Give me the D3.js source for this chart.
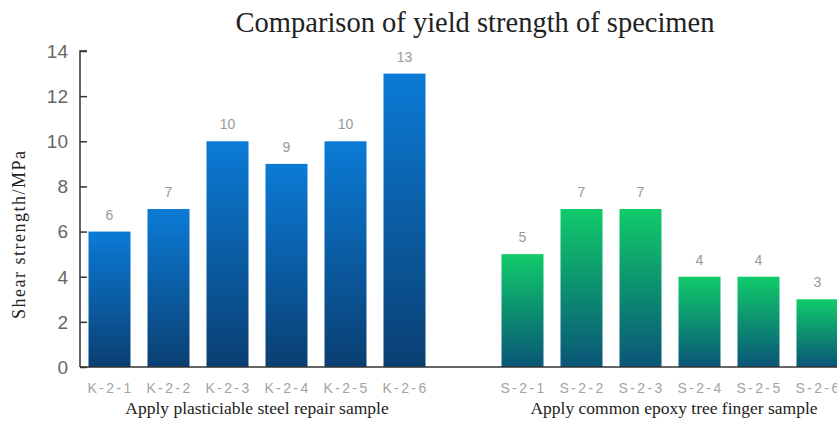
<!DOCTYPE html>
<html>
<head>
<meta charset="utf-8">
<script src="https://d3js.org/d3.v7.min.js"></script>
<style>
  body { margin: 0; background: #fff; }
  .tick-x { font-family: Arial, "Liberation Sans", sans-serif; font-size: 14px; fill: #a3a3a3; letter-spacing: 2.4px; }
  .tick-y { font-family: Arial, "Liberation Sans", sans-serif; font-size: 19px; fill: #666; }
  .val { font-family: Arial, "Liberation Sans", sans-serif; font-size: 14px; fill: #999; }
  .serif { font-family: "Liberation Serif", "DejaVu Serif", serif; fill: #222; }
</style>
</head>
<body>
<script>
// data
var kLabels = ["K-2-1", "K-2-2", "K-2-3", "K-2-4", "K-2-5", "K-2-6"]
var kValues = [6, 7, 10, 9, 10, 13]
var sLabels = ["S-2-1", "S-2-2", "S-2-3", "S-2-4", "S-2-5", "S-2-6"]
var sValues = [5, 7, 7, 4, 4, 3]
var groupNames = ["Apply plasticiable steel repair sample", "Apply common epoxy tree finger sample"]
var yTicks = [0, 2, 4, 6, 8, 10, 12, 14]

var width = 837, height = 422
var x0 = 80, x1 = 847, yTop = 51, yBottom = 367

var svg = d3.select("body").append("svg")
  .attr("width", width)
  .attr("height", height)

var defs = svg.append("defs")
function grad(id, top, bottom) {
  var g = defs.append("linearGradient").attr("id", id)
    .attr("x1", 0).attr("y1", 0).attr("x2", 0).attr("y2", 1)
  g.append("stop").attr("offset", "0%").attr("stop-color", top)
  g.append("stop").attr("offset", "100%").attr("stop-color", bottom)
}
grad("gBlue", "#0b7bd6", "#0a3f72")
grad("gGreen", "#10cb6a", "#0a5577")

// one empty slot between the two groups
var bars = kLabels.map(function(l, i) { return {label: l, value: kValues[i], fill: "url(#gBlue)"} })
  .concat([{label: "", value: null}])
  .concat(sLabels.map(function(l, i) { return {label: l, value: sValues[i], fill: "url(#gGreen)"} }))

var x = d3.scaleBand()
  .domain(bars.map(function(d, i) { return i }))
  .range([x0, x1])
  .paddingInner(0.288)
  .paddingOuter(0.144)

var y = d3.scaleLinear().domain([0, 14]).range([yBottom, yTop])

var real = bars.filter(function(d) { return d.value !== null })
var idx = function(d) { return bars.indexOf(d) }

svg.selectAll("rect.bar")
  .data(real)
  .enter().append("rect")
  .attr("class", "bar")
  .attr("x", function(d) { return x(idx(d)) })
  .attr("y", function(d) { return y(d.value) })
  .attr("width", x.bandwidth())
  .attr("height", function(d) { return y(0) - y(d.value) })
  .attr("fill", function(d) { return d.fill })

svg.selectAll("text.val")
  .data(real)
  .enter().append("text")
  .attr("class", "val")
  .attr("x", function(d) { return x(idx(d)) + x.bandwidth() / 2 })
  .attr("y", function(d) { return y(d.value) - 12 })
  .attr("text-anchor", "middle")
  .text(function(d) { return d.value })

// y axis
var yAxis = d3.axisRight(y).tickValues(yTicks).tickSize(7).tickFormat("")
var ya = svg.append("g").attr("transform", "translate(" + x0 + ",0)").call(yAxis)
ya.select(".domain").attr("stroke", "#333").attr("stroke-width", 1.5)
  .attr("d", "M7," + yTop + "H0V" + yBottom)
ya.selectAll(".tick line").attr("stroke", "#333").attr("stroke-width", 1.5)

svg.selectAll("text.tick-y")
  .data(yTicks)
  .enter().append("text")
  .attr("class", "tick-y")
  .attr("x", 68)
  .attr("y", function(d) { return y(d) })
  .attr("dy", "0.36em")
  .attr("text-anchor", "end")
  .text(function(d) { return d })

// baseline
svg.append("line")
  .attr("x1", x0).attr("x2", width)
  .attr("y1", yBottom).attr("y2", yBottom)
  .attr("stroke", "#333").attr("stroke-width", 1.5)

svg.selectAll("text.tick-x")
  .data(real)
  .enter().append("text")
  .attr("class", "tick-x")
  .attr("x", function(d) { return x(idx(d)) + x.bandwidth() / 2 + 1 })
  .attr("y", 393)
  .attr("text-anchor", "middle")
  .text(function(d) { return d.label })

// group labels
var gCenters = [
  (x(0) + x(5) + x.bandwidth()) / 2,
  (x(7) + x(12) + x.bandwidth()) / 2 + 4
]
svg.selectAll("text.group")
  .data(groupNames)
  .enter().append("text")
  .attr("class", "serif")
  .attr("x", function(d, i) { return gCenters[i] })
  .attr("y", 414)
  .attr("text-anchor", "middle")
  .style("font-size", "17.5px")
  .text(function(d) { return d })

// title
svg.append("text")
  .attr("class", "serif")
  .attr("x", 475)
  .attr("y", 32)
  .attr("text-anchor", "middle")
  .style("font-size", "28.5px")
  .text("Comparison of yield strength of specimen")

// y axis title
svg.append("text")
  .attr("class", "serif")
  .attr("transform", "translate(25,235) rotate(-90)")
  .attr("text-anchor", "middle")
  .style("font-size", "18px")
  .attr("textLength", 168)
  .attr("lengthAdjust", "spacing")
  .text("Shear strength/MPa")
</script>
</body>
</html>
